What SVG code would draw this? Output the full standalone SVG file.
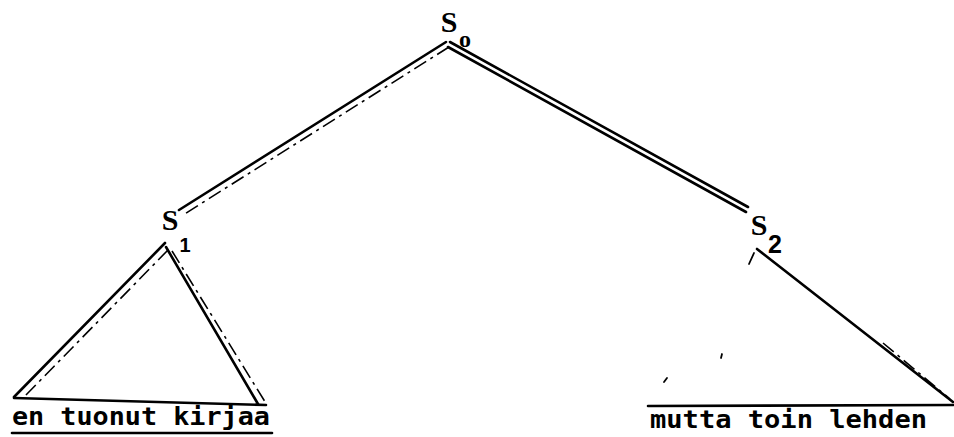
<svg xmlns="http://www.w3.org/2000/svg" width="954" height="437" viewBox="0 0 954 437">
<style>
.ln{stroke:#000;stroke-width:2.6;fill:none;stroke-linecap:round}
.th{stroke:#000;stroke-width:1.8;fill:none;stroke-linecap:round}
.dsh{stroke:#000;stroke-width:1.6;fill:none;stroke-dasharray:14 5 3 5}
.lab{font-family:"Liberation Serif",serif;font-weight:bold;fill:#000}
.sub{font-family:"Liberation Sans",sans-serif;font-weight:bold;fill:#000}
.txt{font-family:"DejaVu Sans Mono","Liberation Mono",monospace;font-weight:bold;fill:#000}
</style>
<g id="connectors">
<line class="ln" x1="446" y1="42" x2="179" y2="210"/>
<line class="dsh" x1="449" y1="47" x2="183" y2="215"/>
<line class="ln" x1="450" y1="42" x2="748" y2="207"/>
<line class="ln" x1="448" y1="47" x2="746" y2="212"/>
</g>
<g id="S0">
<text class="lab" x="449" y="32" font-size="30" text-anchor="middle">S</text>
<text class="lab" x="465" y="47" font-size="24" text-anchor="middle">o</text>
</g>
<g id="S1">
<text class="lab" x="170" y="230" font-size="30" text-anchor="middle">S</text>
<text class="sub" x="185" y="252" font-size="20" text-anchor="middle">1</text>
<line class="ln" x1="165" y1="243" x2="14" y2="397"/>
<line class="dsh" x1="168" y1="250" x2="25" y2="396"/>
<line class="ln" x1="14" y1="398" x2="266" y2="405"/>
<line class="ln" x1="166" y1="247" x2="258" y2="404"/>
<line class="dsh" x1="172" y1="251" x2="267" y2="405"/>
<text class="txt" x="12" y="425" font-size="25" textLength="258" lengthAdjust="spacingAndGlyphs">en tuonut kirjaa</text>
<line class="ln" x1="12" y1="433" x2="272" y2="433"/>
</g>
<g id="S2">
<text class="lab" x="759" y="235" font-size="30" text-anchor="middle">S</text>
<text class="sub" x="775" y="253" font-size="25" text-anchor="middle">2</text>
<line class="ln" x1="757" y1="249" x2="953" y2="402"/>
<line class="dsh" x1="883" y1="343" x2="950" y2="399"/>
<line class="th" x1="754" y1="253" x2="749" y2="264"/>
<line class="th" x1="722" y1="354" x2="721" y2="358"/>
<line class="th" x1="667" y1="378" x2="664" y2="382"/>
<line class="ln" x1="648" y1="406" x2="953" y2="405"/>
<text class="txt" x="650" y="428" font-size="25" textLength="277" lengthAdjust="spacingAndGlyphs">mutta toin lehden</text>
</g>
</svg>
